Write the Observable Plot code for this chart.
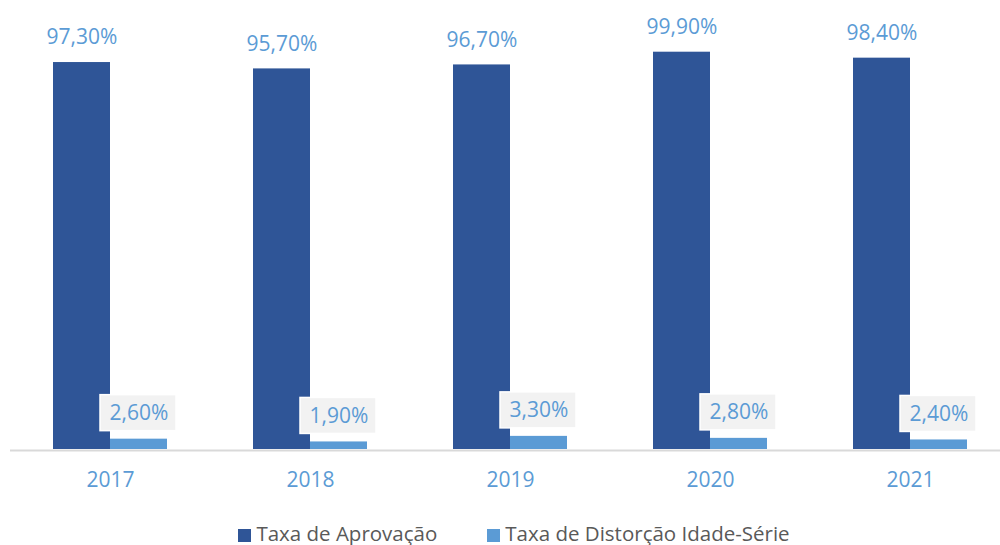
<!DOCTYPE html>
<html>
<head>
<meta charset="utf-8">
<script src="https://cdn.jsdelivr.net/npm/d3@7"></script>
<script src="https://cdn.jsdelivr.net/npm/@observablehq/plot@0.6"></script>
<style>
  html, body { margin: 0; padding: 0; background: #fff; }
  #chart svg { display: block; }
  .legend { display: flex; justify-content: center; padding-left: 28px; gap: 50px; font-family: "Open Sans", sans-serif; font-size: 20.5px; color: #595959; height: 40px; align-items: center; margin-top: 8px; }
  .legend span.sw { display: inline-block; width: 13px; height: 13px; margin-right: 5px; vertical-align: -1px; }
</style>
</head>
<body>
<div id="chart"></div>
<div class="legend">
  <div><span class="sw" style="background:#2f5597"></span>Taxa de Aprovação</div>
  <div><span class="sw" style="background:#5b9bd5"></span>Taxa de Distorção Idade-Série</div>
</div>
<script>
const years = ["2017", "2018", "2019", "2020", "2021"];
const aprovacao = [97.3, 95.7, 96.7, 99.9, 98.4];
const distorcao = [2.6, 1.9, 3.3, 2.8, 2.4];

const dataA = years.map((y, i) => ({year: y, value: aprovacao[i]}));
const dataD = years.map((y, i) => ({year: y, value: distorcao[i]}));
const fmt = d => d.value.toFixed(2).replace(".", ",") + "%";

const dark = "#2f5597", light = "#5b9bd5";
const font = "Open Sans, sans-serif";

const plot = Plot.plot({
  width: 1000,
  height: 505,
  marginTop: 51,
  marginBottom: 56,
  marginLeft: 10,
  marginRight: 0,
  style: {fontFamily: font, background: "#fff"},
  x: {domain: years, range: [10, 1010], padding: 0, label: null},
  y: {domain: [0, 100], range: [449, 51.3], axis: null},
  marks: [
    Plot.barY(dataA, {x: "year", y: "value", fill: dark, insetLeft: 43, insetRight: 100}),
    Plot.barY(dataD, {x: "year", y: "value", fill: light, insetLeft: 100, insetRight: 43}),
    Plot.ruleY([0], {stroke: "#d9d9d9", strokeWidth: 2, dy: 1}),
    Plot.barY(dataD, {x: "year", y1: "value", y2: "value", fill: "#f2f2f2", stroke: "#fff", strokeWidth: 1.5, insetLeft: 90, insetRight: 34, insetTop: -44, insetBottom: 8}),
    Plot.text(dataA, {x: "year", y: "value", text: fmt, dx: -28.5, dy: -25, fill: light, fontSize: 21}),
    Plot.text(dataD, {x: "year", y: "value", text: fmt, dx: 28.5, dy: -26, fill: light, fontSize: 21}),
    Plot.axisX({tickSize: 0, tickPadding: 23, fontSize: 21, color: light, fill: light, label: null})
  ]
});
document.getElementById("chart").appendChild(plot);
</script>
</body>
</html>
